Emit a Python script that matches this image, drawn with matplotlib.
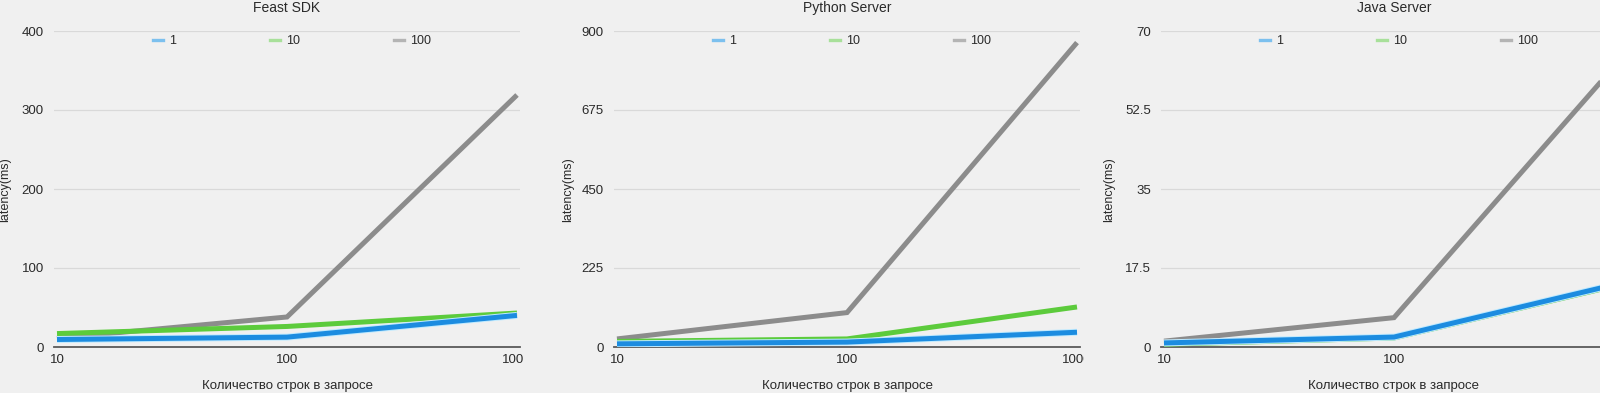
import matplotlib
matplotlib.use("Agg")
import matplotlib.pyplot as plt
import matplotlib.patheffects as pe
from matplotlib.lines import Line2D
from matplotlib.transforms import Bbox, TransformedBbox

plt.rcParams['font.family'] = ['Liberation Sans', 'DejaVu Sans']

# ---- data ----
rows = ['10', '100', '1000']
series_names = ['1', '10', '100']

feast_1 = [9.5, 12.5, 40]
feast_10 = [17, 26, 43]
feast_100 = [11, 38, 319]

python_1 = [9, 14, 42]
python_10 = [16, 23, 114]
python_100 = [23, 98, 867]

java_1 = [0.9, 2.2, 14.3]
java_10 = [0.6, 2.0, 14.0]
java_100 = [1.3, 6.5, 64.6]

titles = ['Feast SDK', 'Python Server', 'Java Server']
yticks = [[0, 100, 200, 300, 400],
          [0, 225, 450, 675, 900],
          [0, 17.5, 35, 52.5, 70]]
ytick_labels = [['0', '100', '200', '300', '400'],
                ['0', '225', '450', '675', '900'],
                ['0', '17.5', '35', '52.5', '70']]
xlabel = 'Количество строк в запросе'
ylabel = 'latency(ms)'

panels = [(feast_1, feast_10, feast_100),
          (python_1, python_10, python_100),
          (java_1, java_10, java_100)]

# ---- style ----
W, H = 1600, 393
BG = '#f0f0f0'
C_BLUE = '#1c8ce0'
C_GREEN = '#5ccb3c'
C_GRAY = '#8c8c8c'
L_BLUE = '#7cc0ee'
L_GREEN = '#a8e09a'
L_GRAY = '#b4b4b4'
TXT = '#2a2a2a'

fig = plt.figure(figsize=(W / 100, H / 100), dpi=100)
fig.patch.set_facecolor(BG)

first_pt = [57, 617, 1164]      # pixel x of first category
step = 230                       # pixels per category
pad_u = 0.015
ax_w = (2 + 2 * pad_u) * step
ax_bottom = H - 347
ax_h = 347 - 31
ylabel_x = [5, 568, 1109]
clip_right = [523, 1084, W]

for i, (s1, s10, s100) in enumerate(panels):
    left = first_pt[i] - pad_u * step
    ax = fig.add_axes([left / W, ax_bottom / H, ax_w / W, ax_h / H])
    ax.set_facecolor('none')
    x = list(range(len(rows)))

    ax.plot(x, s100, color=C_GRAY, lw=3.6, solid_joinstyle='miter',
            solid_capstyle='butt', zorder=3)
    ax.plot(x, s10, color=C_GREEN, lw=3.6, solid_joinstyle='miter',
            solid_capstyle='butt', zorder=4)
    ax.plot(x, s1, color=C_BLUE, lw=3.6, solid_joinstyle='miter',
            solid_capstyle='butt', zorder=5,
            path_effects=[pe.Stroke(linewidth=5.0, foreground='#bfeaff'),
                          pe.Normal()])

    ax.set_xlim(-pad_u, 2 + pad_u)
    ax.set_ylim(0, yticks[i][-1])
    ax.set_yticks(yticks[i], ytick_labels[i])
    # the last category label of the third panel lies outside the picture
    xt = rows if clip_right[i] < W else rows[:2] + ['']
    ax.set_xticks(x, xt)
    ax.grid(axis='y', color='#d9d9d9', lw=0.9)
    ax.set_axisbelow(True)
    for sp in ['top', 'right', 'left']:
        ax.spines[sp].set_visible(False)
    ax.spines['bottom'].set_color('#5a5a5a')
    ax.spines['bottom'].set_linewidth(1.3)
    ax.spines['bottom'].set_zorder(2)
    ax.tick_params(axis='both', length=0, labelsize=9.5, labelcolor=TXT)
    ax.tick_params(axis='y', pad=7)
    ax.tick_params(axis='x', pad=5)

    clip = TransformedBbox(Bbox([[0, 0], [clip_right[i] / W, 1]]), fig.transFigure)
    for lab in ax.get_xticklabels():
        lab.set_clip_box(clip)
        lab.set_clip_on(True)

    ax.set_title(titles[i], fontsize=10, color=TXT, pad=14)

    handles = [Line2D([], [], color=c, lw=2.4) for c in (L_BLUE, L_GREEN, L_GRAY)]
    ax.legend(handles, series_names, loc='upper center', bbox_to_anchor=(0.51, 1.022),
              ncol=3, frameon=False, fontsize=9, handlelength=0.8,
              handletextpad=0.5, columnspacing=7.5, labelcolor=TXT)

    cx = (left + ax_w / 2) / W
    fig.text(cx, 7.5 / H, xlabel, ha='center', va='center', fontsize=9.5, color=TXT)
    fig.text(ylabel_x[i] / W, (H - 190) / H, ylabel, ha='center', va='center',
             rotation=90, fontsize=9, color=TXT)

fig.savefig('out.png', dpi=100, facecolor=BG)
